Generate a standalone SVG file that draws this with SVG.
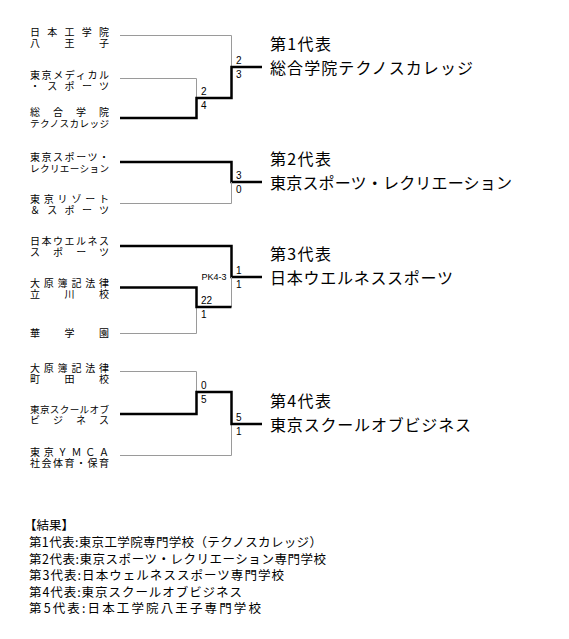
<svg xmlns="http://www.w3.org/2000/svg" width="569" height="639" viewBox="0 0 569 639">
<style>
.bg{fill:#fff}
.thin{fill:none;stroke:#9a9a9a;stroke-width:1}
.thick{fill:none;stroke:#000;stroke-width:2.5;stroke-linejoin:miter}
.l{font-family:"Noto Sans CJK JP","Noto Sans CJK SC",sans-serif;font-size:10px;fill:#000}
.ls{font-size:9.6px}
.s{font-family:"Liberation Sans",Arial,sans-serif;font-size:10px;fill:#000}
.pk{font-size:9px}
.r{font-family:"Noto Sans CJK JP","Noto Sans CJK SC",sans-serif;font-size:16px;fill:#000}
.res{font-family:"Noto Sans CJK JP","Noto Sans CJK SC",sans-serif;font-size:12.5px;fill:#000}
</style>
<rect class="bg" x="0" y="0" width="569" height="639"/>

<g id="connectors">
  <path class="thin" d="M120 35.5 H231.5 V67"/>
  <path class="thin" d="M120 78.5 H196.5 V98"/>
  <path class="thick" d="M120 118 H196.5 V98 H231.5 V67 H262"/>

  <path class="thick" d="M120 162 H231.5 V182 H262"/>
  <path class="thin" d="M120 203.5 H231.5 V182"/>

  <path class="thick" d="M120 246 H231.5 V277 H262"/>
  <path class="thin" d="M231.5 277 V307"/>
  <path class="thin" d="M120 333.5 H196.5 V307"/>
  <path class="thick" d="M120 287.5 H196.5 V307 H231.5"/>

  <path class="thin" d="M120 371.5 H196.5 V392"/>
  <path class="thin" d="M120 455.5 H231.5 V424"/>
  <path class="thick" d="M120 414 H196.5 V392 H231.5 V424 H262"/>
</g>

<g id="scores">
  <text class="s" x="236" y="63.5">2</text>
  <text class="s" x="236" y="77.5">3</text>
  <text class="s" x="201" y="94.5">2</text>
  <text class="s" x="201" y="108.5">4</text>

  <text class="s" x="236" y="178.5">3</text>
  <text class="s" x="236" y="192.5">0</text>

  <text class="s" x="236" y="273.5">1</text>
  <text class="s" x="236" y="287.5">1</text>
  <text class="s pk" x="201.5" y="280">PK4-3</text>
  <text class="s" x="201" y="303.5">22</text>
  <text class="s" x="201" y="317.5">1</text>

  <text class="s" x="201" y="388.5">0</text>
  <text class="s" x="201" y="402.5">5</text>
  <text class="s" x="236" y="420.5">5</text>
  <text class="s" x="236" y="434.5">1</text>
</g>

<g id="team-nihon-kogakuin-hachioji">
  <text class="l"><tspan x="30" y="35.5" textLength="79">日本工学院</tspan><tspan x="30" y="46.5" textLength="79">八王子</tspan></text>
</g>
<g id="team-tokyo-medical-sports">
  <text class="l"><tspan x="30" y="78.5" textLength="79">東京メディカル</tspan><tspan x="30" y="89.5" textLength="79">・スポーツ</tspan></text>
</g>
<g id="team-sogo-gakuin">
  <text class="l"><tspan x="30" y="116" textLength="79">総合学院</tspan><tspan class="ls" x="30" y="127" textLength="79">テクノスカレッジ</tspan></text>
</g>
<g id="team-tokyo-sports-recreation">
  <text class="l"><tspan x="30" y="160.5" textLength="79">東京スポーツ・</tspan><tspan class="ls" x="30" y="171.5" textLength="79">レクリエーション</tspan></text>
</g>
<g id="team-tokyo-resort-sports">
  <text class="l"><tspan x="30" y="203" textLength="79">東京リゾート</tspan><tspan x="30" y="214" textLength="79">＆スポーツ</tspan></text>
</g>
<g id="team-nihon-wellness">
  <text class="l"><tspan x="30" y="245" textLength="79">日本ウエルネス</tspan><tspan x="30" y="256" textLength="79">スポーツ</tspan></text>
</g>
<g id="team-ohara-tachikawa">
  <text class="l"><tspan x="30" y="287" textLength="79">大原簿記法律</tspan><tspan x="30" y="298" textLength="79">立川校</tspan></text>
</g>
<g id="team-hana-gakuen">
  <text class="l" x="30" y="337" textLength="79">華学園</text>
</g>
<g id="team-ohara-machida">
  <text class="l"><tspan x="30" y="371.5" textLength="79">大原簿記法律</tspan><tspan x="30" y="382.5" textLength="79">町田校</tspan></text>
</g>
<g id="team-tokyo-school-of-business">
  <text class="l"><tspan class="ls" x="30" y="413" textLength="79">東京スクールオブ</tspan><tspan x="30" y="424" textLength="79">ビジネス</tspan></text>
</g>
<g id="team-tokyo-ymca">
  <text class="l"><tspan x="30" y="455.5" textLength="79">東京ＹＭＣＡ</tspan><tspan x="30" y="466.5" textLength="79">社会体育・保育</tspan></text>
</g>

<g id="rep-1">
  <text class="r" x="270" y="49.5" textLength="61">第1代表</text>
  <text class="r" x="270" y="73.5" textLength="203">総合学院テクノスカレッジ</text>
</g>
<g id="rep-2">
  <text class="r" x="270" y="165" textLength="61">第2代表</text>
  <text class="r" x="270" y="189" textLength="242">東京スポーツ・レクリエーション</text>
</g>
<g id="rep-3">
  <text class="r" x="270" y="259.5" textLength="61">第3代表</text>
  <text class="r" x="270" y="283.5" textLength="183">日本ウエルネススポーツ</text>
</g>
<g id="rep-4">
  <text class="r" x="270" y="407" textLength="61">第4代表</text>
  <text class="r" x="270" y="431" textLength="201">東京スクールオブビジネス</text>
</g>

<g id="results">
  <text class="res" x="24" y="530">【結果】</text>
  <text class="res" x="29" y="547" textLength="293">第1代表:東京工学院専門学校（テクノスカレッジ）</text>
  <text class="res" x="29" y="563.5" textLength="297">第2代表:東京スポーツ・レクリエーション専門学校</text>
  <text class="res" x="29" y="580" textLength="255">第3代表:日本ウェルネススポーツ専門学校</text>
  <text class="res" x="29" y="596.5" textLength="213">第4代表:東京スクールオブビジネス</text>
  <text class="res" x="29" y="613" textLength="232">第5代表:日本工学院八王子専門学校</text>
</g>
</svg>
